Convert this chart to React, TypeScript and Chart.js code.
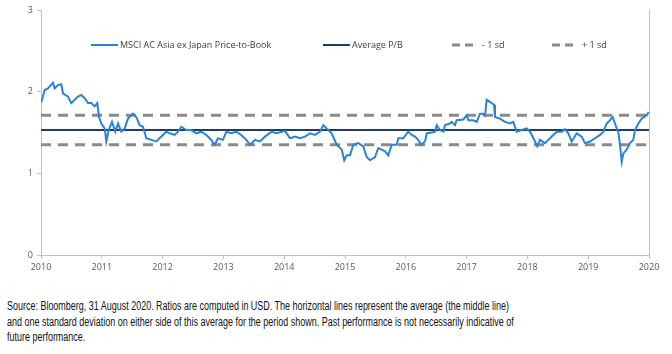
import React, { useEffect, useRef } from 'react';
import { Chart, registerables } from 'chart.js';

Chart.register(...registerables);

// ---- Data ----
const yearTicks = [2010, 2011, 2012, 2013, 2014, 2015, 2016, 2017, 2018, 2019, 2020];

const seriesLabels = [
  'MSCI AC Asia ex Japan Price-to-Book',
  'Average P/B',
  '- 1 sd',
  '+ 1 sd',
];

const AVG_PB = 1.53;
const MINUS_1SD = 1.35;
const PLUS_1SD = 1.71;

const pbDates = [
  2010.005, 2010.061, 2010.115, 2010.197, 2010.225, 2010.28, 2010.334, 2010.362, 2010.444, 2010.498,
  2010.554, 2010.609, 2010.663, 2010.719, 2010.773, 2010.827, 2010.883, 2010.926, 2010.954, 2010.992,
  2011.048, 2011.074, 2011.113, 2011.168, 2011.222, 2011.266, 2011.321, 2011.377, 2011.431, 2011.513,
  2011.567, 2011.623, 2011.678, 2011.732, 2011.814, 2011.896, 2011.979,
  2012.061, 2012.117, 2012.199, 2012.253, 2012.308, 2012.39, 2012.472, 2012.554, 2012.636, 2012.719,
  2012.801, 2012.857, 2012.911, 2012.993,
  2013.048, 2013.13, 2013.212, 2013.294, 2013.377,
  2013.438, 2013.52, 2013.602, 2013.684, 2013.794, 2013.877, 2013.959,
  2014.013, 2014.095, 2014.178, 2014.26, 2014.342, 2014.424, 2014.507, 2014.589, 2014.643, 2014.699,
  2014.781, 2014.863, 2014.946, 2014.988,
  2015.028, 2015.082, 2015.137, 2015.219, 2015.301, 2015.357, 2015.411, 2015.493, 2015.548, 2015.604,
  2015.658, 2015.712, 2015.768, 2015.85, 2015.877, 2015.959,
  2016.041, 2016.097, 2016.151, 2016.205, 2016.25, 2016.316, 2016.344, 2016.426, 2016.48, 2016.508,
  2016.562, 2016.617, 2016.645, 2016.727, 2016.755, 2016.809,
  2016.837, 2016.946,
  2017.002, 2017.03, 2017.11, 2017.166, 2017.22, 2017.275, 2017.303, 2017.331, 2017.413, 2017.451,
  2017.467, 2017.549, 2017.632, 2017.714, 2017.768, 2017.824, 2017.906, 2017.988,
  2018.043, 2018.125, 2018.163, 2018.207, 2018.289, 2018.344, 2018.4, 2018.482, 2018.564, 2018.618,
  2018.673, 2018.729, 2018.811, 2018.893, 2018.947,
  2019.03, 2019.112, 2019.194, 2019.248, 2019.304, 2019.359, 2019.403, 2019.441, 2019.469, 2019.495,
  2019.523, 2019.551, 2019.577, 2019.633, 2019.688, 2019.742, 2019.77, 2019.824, 2019.88, 2019.962,
  2019.995,
];

const pbValues = [
  1.87, 2.02, 2.04, 2.11, 2.04, 2.08, 2.09, 1.98, 1.94, 1.86,
  1.9, 1.94, 1.96, 1.92, 1.86, 1.86, 1.82, 1.86, 1.69, 1.61,
  1.55, 1.39, 1.53, 1.63, 1.51, 1.61, 1.51, 1.55, 1.67, 1.73,
  1.69, 1.59, 1.57, 1.43, 1.41, 1.39, 1.45,
  1.51, 1.49, 1.47, 1.51, 1.57, 1.53, 1.53, 1.49, 1.51, 1.47,
  1.41, 1.35, 1.43, 1.41,
  1.51, 1.49, 1.51, 1.47, 1.41,
  1.35, 1.41, 1.39, 1.45, 1.51, 1.49, 1.51,
  1.52, 1.43, 1.45, 1.43, 1.45, 1.49, 1.47, 1.51, 1.59, 1.55,
  1.49, 1.35, 1.29, 1.16,
  1.22, 1.22, 1.35, 1.37, 1.33, 1.2, 1.16, 1.2, 1.31, 1.29,
  1.27, 1.22, 1.35, 1.35, 1.43, 1.43,
  1.51, 1.47, 1.45, 1.41, 1.35, 1.39, 1.49, 1.5, 1.51, 1.59,
  1.53, 1.51, 1.59, 1.61, 1.63, 1.59,
  1.65, 1.66,
  1.71, 1.65, 1.65, 1.63, 1.73, 1.73, 1.71, 1.9, 1.86, 1.84,
  1.69, 1.67, 1.63, 1.61, 1.63, 1.51, 1.53, 1.55,
  1.51, 1.39, 1.33, 1.41, 1.37, 1.41, 1.45, 1.51, 1.51, 1.54,
  1.49, 1.39, 1.49, 1.45, 1.37,
  1.39, 1.43, 1.47, 1.51, 1.61, 1.65, 1.69, 1.61, 1.55, 1.51,
  1.35, 1.14, 1.24, 1.29, 1.37, 1.41, 1.53, 1.61, 1.67, 1.71,
  1.75,
];

const footnoteLines = [
  'Source: Bloomberg, 31 August 2020. Ratios are computed in USD. The horizontal lines represent the average (the middle line)',
  'and one standard deviation on either side of this average for the period shown. Past performance is not necessarily indicative of',
  'future performance.',
];

// ---- Styles ----
const BLUE = '#2a84d6';
const NAVY = '#1d3d66';
const GRAY_DASH = '#8a8a8a';
const AXIS = '#c0c0c0';
const TICK_TEXT = '#595959';
const FONT = '"Open Sans", "Noto Sans", sans-serif';
const FOOT_LINE1_WIDTH = 502;

const legendPositions = [91, 323, 452, 552];
const LEGEND_Y = 45;

const customLegend = {
  id: 'customLegend',
  afterDraw(chart: any) {
    const ctx = chart.ctx;
    ctx.save();
    ctx.font = `9px ${FONT}`;
    ctx.textBaseline = 'middle';
    chart.data.datasets.forEach((ds: any, i: number) => {
      const x = legendPositions[i];
      const dashed = !!ds.borderDash;
      const len = dashed ? 22 : 27;
      ctx.beginPath();
      ctx.strokeStyle = ds.borderColor;
      ctx.lineWidth = dashed ? 3 : 2;
      ctx.setLineDash(dashed ? [8, 5] : []);
      ctx.moveTo(x, LEGEND_Y);
      ctx.lineTo(x + len, LEGEND_Y);
      ctx.stroke();
      ctx.setLineDash([]);
      ctx.fillStyle = '#404040';
      ctx.fillText(ds.label, x + len + (dashed ? 8 : 2), LEGEND_Y);
    });
    ctx.restore();
  },
};

function flat(v: number) {
  return [
    { x: yearTicks[0], y: v },
    { x: yearTicks[yearTicks.length - 1], y: v },
  ];
}

export default function App() {
  const ref = useRef<HTMLCanvasElement | null>(null);
  const footRef = useRef<HTMLDivElement | null>(null);
  const line1Ref = useRef<HTMLSpanElement | null>(null);

  useEffect(() => {
    if (footRef.current && line1Ref.current) {
      const w = line1Ref.current.getBoundingClientRect().width;
      if (w > 0) {
        footRef.current.style.transform = `scaleX(${FOOT_LINE1_WIDTH / w})`;
      }
    }
    if (!ref.current) return;
    const chart = new Chart(ref.current, {
      type: 'line',
      data: {
        datasets: [
          {
            label: seriesLabels[0],
            data: pbDates.map((d, i) => ({ x: d, y: pbValues[i] })),
            borderColor: BLUE,
            borderWidth: 2,
            pointRadius: 0,
            tension: 0,
            order: 0,
          },
          {
            label: seriesLabels[1],
            data: flat(AVG_PB),
            borderColor: NAVY,
            borderWidth: 2,
            pointRadius: 0,
            order: 1,
          },
          {
            label: seriesLabels[2],
            data: flat(MINUS_1SD),
            borderColor: GRAY_DASH,
            borderWidth: 3,
            borderDash: [10, 7],
            pointRadius: 0,
            order: 2,
          },
          {
            label: seriesLabels[3],
            data: flat(PLUS_1SD),
            borderColor: GRAY_DASH,
            borderWidth: 3,
            borderDash: [10, 7],
            pointRadius: 0,
            order: 3,
          },
        ],
      },
      options: {
        animation: false,
        responsive: false,
        maintainAspectRatio: false,
        layout: { padding: { top: 10, right: 23, left: 0, bottom: 0 } },
        plugins: {
          legend: { display: false },
          tooltip: { enabled: false },
        },
        scales: {
          x: {
            type: 'linear',
            min: yearTicks[0],
            max: yearTicks[yearTicks.length - 1],
            afterBuildTicks: (s: any) => {
              s.ticks = yearTicks.map((v) => ({ value: v }));
            },
            ticks: {
              callback: (v: any) => String(v),
              color: TICK_TEXT,
              font: { family: FONT, size: 9 },
              padding: 3,
              maxRotation: 0,
              autoSkip: false,
            },
            grid: { drawOnChartArea: false, tickLength: 4, color: AXIS },
            border: { color: AXIS },
            afterFit: (s: any) => {
              s.height = 25;
            },
          },
          y: {
            min: 0,
            max: 3,
            ticks: {
              stepSize: 1,
              color: TICK_TEXT,
              font: { family: FONT, size: 9 },
              padding: 4,
            },
            grid: { drawOnChartArea: false, tickLength: 4, color: AXIS },
            border: { color: AXIS },
            afterFit: (s: any) => {
              s.width = 41;
            },
          },
          y2: {
            position: 'right',
            min: 0,
            max: 3,
            ticks: { display: false },
            grid: { display: false },
            border: { display: true, color: AXIS },
            afterFit: (s: any) => {
              s.width = 0;
            },
          },
        },
      },
      plugins: [customLegend],
    } as any);
    return () => chart.destroy();
  }, []);

  return (
    <div style={{ position: 'absolute', left: 0, top: 0, width: 672, height: 354, background: '#fff' }}>
      <canvas ref={ref} width={672} height={280} style={{ display: 'block', width: 672, height: 280 }} />
      <div
        ref={footRef}
        style={{
          position: 'absolute',
          left: 7,
          top: 299,
          fontFamily: '"Liberation Sans", Arial, sans-serif',
          fontSize: 12.5,
          lineHeight: '15.5px',
          color: '#111',
          whiteSpace: 'nowrap',
          transformOrigin: 'left top',
        }}
      >
        {footnoteLines.map((l, i) => (
          <div key={i}>
            {i === 0 ? <span ref={line1Ref}>{l}</span> : l}
          </div>
        ))}
      </div>
    </div>
  );
}
